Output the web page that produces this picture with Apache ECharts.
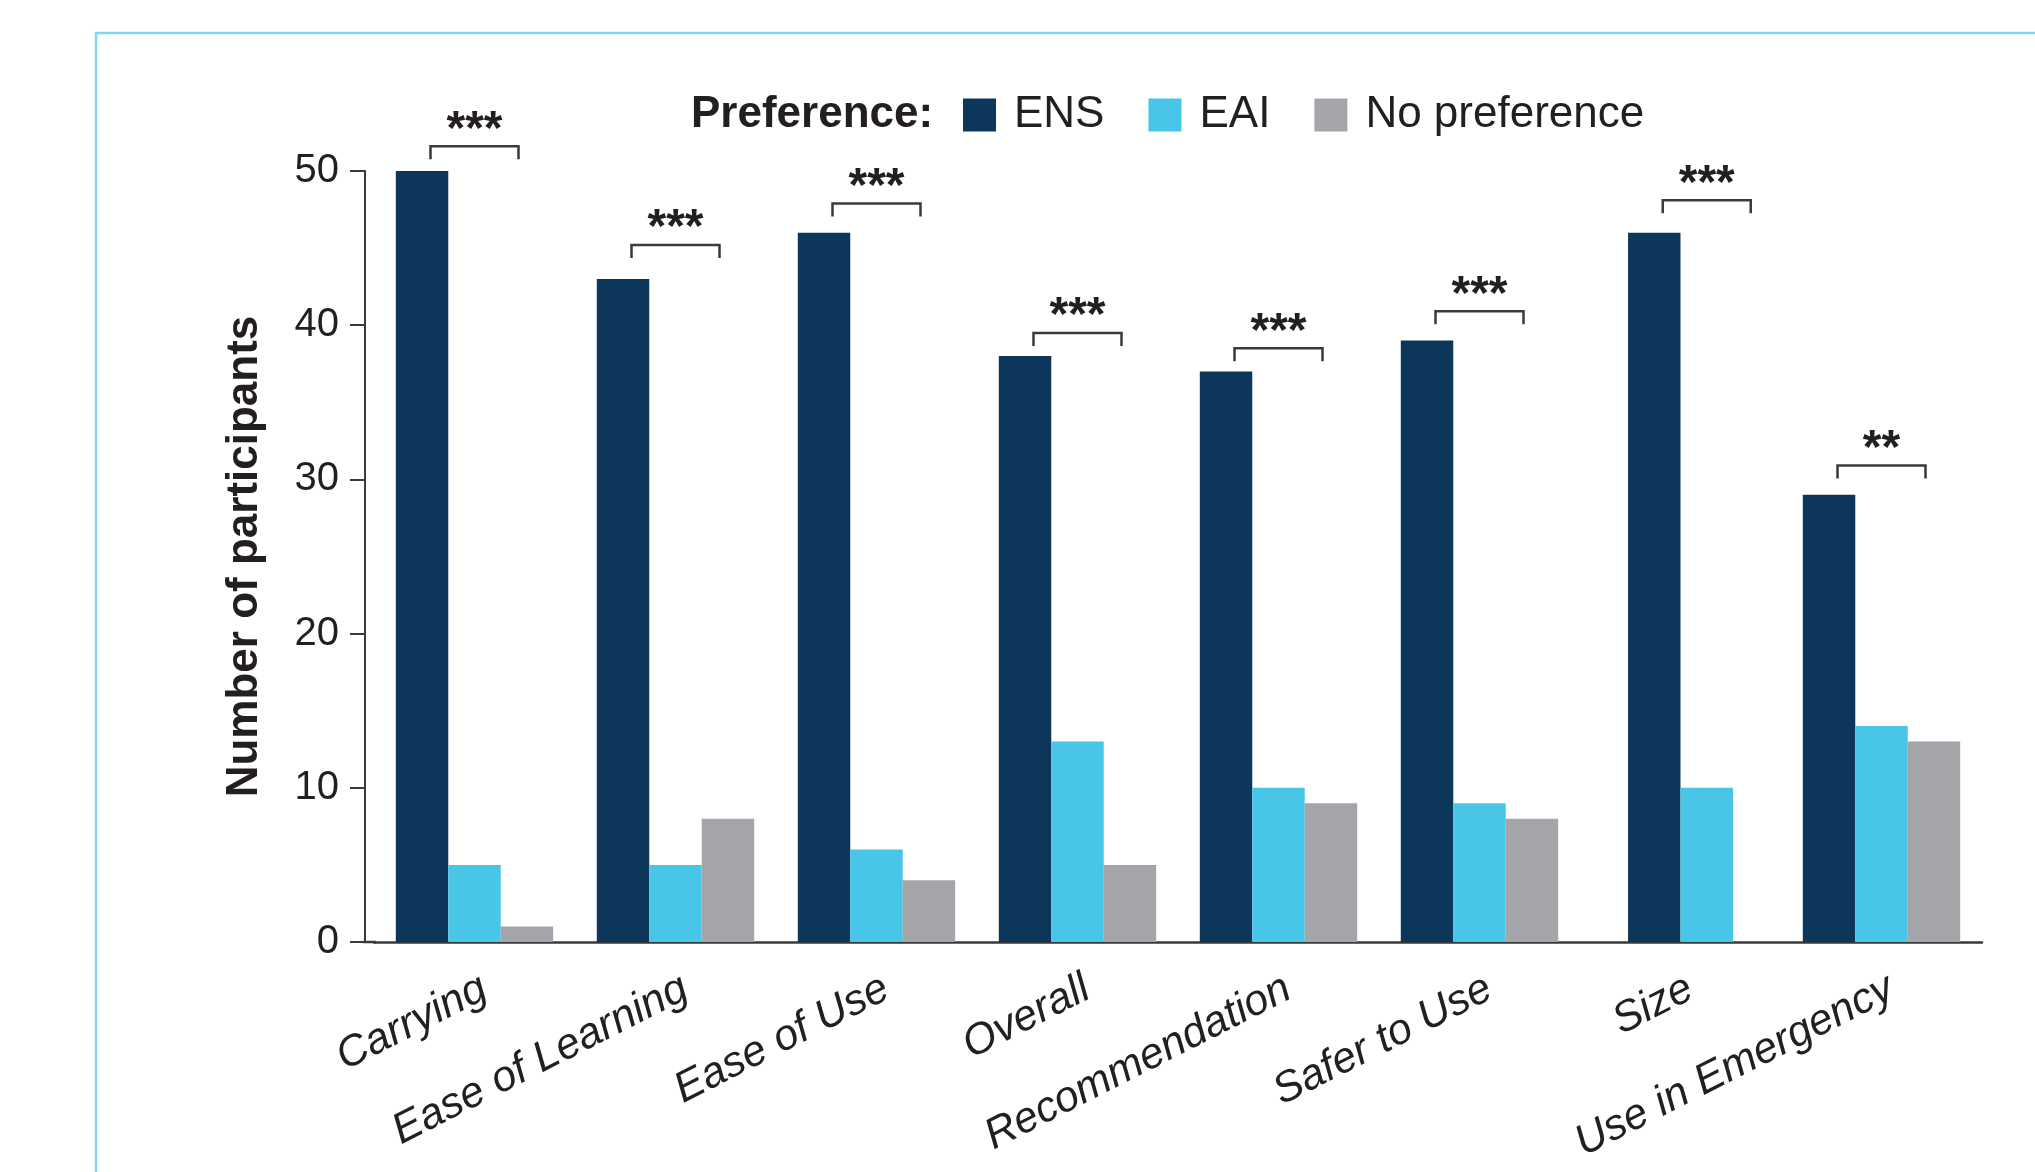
<!DOCTYPE html>
<html>
<head>
<meta charset="utf-8">
<title>Preference</title>
<script src="https://cdn.jsdelivr.net/npm/echarts@6/dist/echarts.min.js"></script>
<style>
    html, body { margin: 0; padding: 0; background: #fff; }
    #chart { width: 2035px; height: 1172px; }
</style>
</head>
<body>
<div id="chart"></div>
<script>
    var categories = ['Carrying', 'Ease of Learning', 'Ease of Use', 'Overall', 'Recommendation', 'Safer to Use', 'Size', 'Use in Emergency'];
    var ens = [50, 43, 46, 38, 37, 39, 46, 29];
    var eai = [5, 5, 6, 13, 10, 9, 10, 14];
    var noPref = [1, 8, 4, 5, 9, 8, 0, 13];
    // significance marks and the value level their brackets sit at
    var sigLabels = ['***', '***', '***', '***', '***', '***', '***', '**'];
    var sigLevel = [51.6, 45.2, 47.9, 39.5, 38.5, 40.9, 48.1, 30.9];
    var seriesNames = ['ENS', 'EAI', 'No preference'];

    var groups = [ens, eai, noPref];
    var colors = ['#0d375a', '#48c6e8', '#a4a5a9'];
    var ink = '#231f20';
    var font = '"Liberation Sans", Arial, sans-serif';
    var barShare = 0.261;

    function barRenderer(s) {
        return function (params, api) {
            var i = api.value(0);
            var v = api.value(1);
            if (!v) return null;
            var n = 0, k = 0;
            groups.forEach(function (g, j) {
                if (g[i] > 0) {
                    n++;
                    if (j < s) k++;
                }
            });
            var bw = api.size([1, 0])[0] * barShare;
            var base = api.coord([i, 0]);
            var top = api.coord([i, v]);
            return {
                type: 'rect',
                shape: { x: base[0] - n * bw / 2 + k * bw, y: top[1], width: bw, height: base[1] - top[1] },
                style: { fill: colors[s] }
            };
        };
    }

    function sigRenderer(params, api) {
        var i = api.value(0);
        var c = api.coord([i, api.value(1)]);
        var bw = api.size([1, 0])[0] * barShare;
        var n = noPref[i] > 0 ? 3 : 2;
        var cx = c[0] - n * bw / 2 + 1.5 * bw;
        var half = 44;
        return {
            type: 'group',
            children: [{
                type: 'polyline',
                shape: { points: [[cx - half, c[1] + 13], [cx - half, c[1]], [cx + half, c[1]], [cx + half, c[1] + 13]] },
                style: { stroke: '#3a3a3a', lineWidth: 2.5, fill: null }
            }, {
                type: 'text',
                x: cx,
                y: c[1] - 16,
                style: {
                    text: sigLabels[i], fontSize: 48, fontWeight: 'bold', fontFamily: font, fill: ink,
                    align: 'center', verticalAlign: 'middle', textAlign: 'center', textVerticalAlign: 'middle'
                }
            }]
        };
    }

    var series = groups.map(function (g, s) {
        return {
            name: seriesNames[s],
            type: 'custom',
            renderItem: barRenderer(s),
            itemStyle: { color: colors[s] },
            encode: { x: 0, y: 1 },
            data: g.map(function (v, i) { return [i, v]; })
        };
    });
    series.push({
        name: 'sig',
        type: 'custom',
        renderItem: sigRenderer,
        clip: false,
        silent: true,
        encode: { x: 0, y: 1 },
        data: sigLevel.map(function (v, i) { return [i, v]; })
    });

    var chart = echarts.init(document.getElementById('chart'));
    chart.setOption({
        animation: false,
        textStyle: { fontFamily: font, color: ink },
        grid: { left: 374, right: 53, top: 171, bottom: 230, outerBoundsMode: 'none', containLabel: false },
        legend: {
            left: 963,
            top: 93,
            padding: 0,
            itemWidth: 33,
            itemHeight: 33,
            itemGap: 44,
            selectedMode: false,
            data: seriesNames.map(function (n) { return { name: n, icon: 'rect' }; }),
            textStyle: { fontSize: 44, color: ink, fontFamily: font, padding: [0, 0, 0, 13] }
        },
        xAxis: {
            type: 'category',
            data: categories,
            axisLine: { lineStyle: { color: '#3a3a3a', width: 2.5 } },
            axisTick: { alignWithLabel: true, length: 16, lineStyle: { color: '#3a3a3a', width: 2 } },
            axisLabel: {
                interval: 0, rotate: 27, margin: 25, verticalAlign: 'top',
                fontSize: 43, fontStyle: 'italic', color: ink, fontFamily: font
            }
        },
        yAxis: {
            type: 'value',
            min: 0,
            max: 50,
            interval: 10,
            offset: 9,
            name: 'Number of participants',
            nameLocation: 'middle',
            nameGap: 98,
            nameTextStyle: { fontSize: 44, fontWeight: 'bold', color: ink, fontFamily: font },
            axisLine: { show: true, lineStyle: { color: '#3a3a3a', width: 2 } },
            axisTick: { show: true, length: 15, lineStyle: { color: '#3a3a3a', width: 2 } },
            axisLabel: { fontSize: 40, margin: 26, color: ink, fontFamily: font },
            splitLine: { show: false }
        },
        graphic: [{
            type: 'rect',
            z: -1,
            shape: { x: 96, y: 33, width: 2100, height: 1300 },
            style: { fill: 'none', stroke: '#80d6ee', lineWidth: 2.5 }
        }, {
            type: 'text',
            x: 691,
            y: 115,
            style: {
                text: 'Preference:', fontSize: 44, fontWeight: 'bold', fontFamily: font, fill: ink,
                verticalAlign: 'middle', textVerticalAlign: 'middle'
            }
        }, {
            type: 'line',
            shape: { x1: 363, y1: 942, x2: 376, y2: 942 },
            style: { stroke: '#3a3a3a', lineWidth: 2.5 }
        }],
        series: series
    });
</script>
</body>
</html>
